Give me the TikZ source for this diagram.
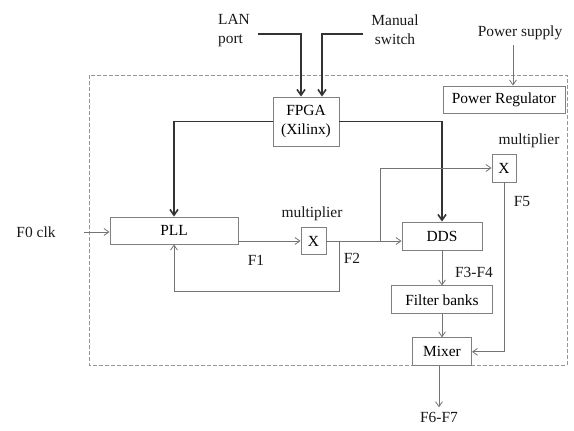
\documentclass[tikz,border=0pt]{standalone}
\usepackage{fontspec}
\setmainfont{Liberation Serif}
\usetikzlibrary{positioning,arrows.meta}
\definecolor{boxgray}{RGB}{128,128,128}
\definecolor{linegray}{RGB}{115,115,115}
\definecolor{framegray}{RGB}{150,150,150}
\tikzset{
    block/.style={rectangle, draw=boxgray, line width=0.9bp, inner sep=0pt, text centered},
    lbl/.style={inner sep=2bp, text=black!90},
    arr/.style={draw=linegray, line width=0.8bp, -{Straight Barb[angle=70:6bp]}},
    ctrl/.style={draw=black!80, line width=1.6bp, -{Straight Barb[angle=70:7bp]}},
    frame/.style={draw=framegray, line width=0.9bp, dash pattern=on 4bp off 2bp}
    }

\begin{document}
\begin{tikzpicture}[x=1bp, y=-1bp, font=\fontsize{15.5}{19}\selectfont]
    \useasboundingbox (0,0) rectangle (574,430);
    \draw[frame] (89,75) rectangle (567,365);
    % inputs
    \node[lbl, align=left] (lan) at (234,31) {LAN\\port};
    \node[lbl, align=center] (manual) at (395,30) {Manual\\switch};
    \node[lbl] (psup) at (520,33) {Power supply};
    \node[lbl] (f0) at (36,232) {F0 clk};
    \coordinate (clkin) at (84,232);
    % blocks
    \node[block, minimum width=66bp, minimum height=49bp, align=center] (fpga) at (306,121.5) {FPGA\\(Xilinx)};
    \node[block, minimum width=122bp, minimum height=27bp] (preg) at (504,99.5) {Power Regulator};
    \node[block, minimum width=128bp, minimum height=27bp] (pll) at (174,230.5) {PLL};
    \node[block, minimum width=25bp, minimum height=27bp] (mula) at (313.5,241) {X};
    \node[lbl] (mulalbl) at (312,214) {multiplier};
    \node[block, minimum width=80bp, minimum height=28bp] (dds) at (442,236) {DDS};
    \node[block, minimum width=101bp, minimum height=28bp, below=35bp of dds] (filt) {Filter banks};
    \node[block, minimum width=59bp, minimum height=28bp, below=23bp of filt] (mixer) {Mixer};
    \node[block, minimum width=24bp, minimum height=28bp] (mulb) at (504,168) {X};
    \node[lbl] (mulblbl) at (529,141) {multiplier};
    % frequency labels
    \node[lbl] (f1) at (256,260) {F1};
    \node[lbl] (f2) at (352,258) {F2};
    \node[lbl] (f34) at (474,272) {F3-F4};
    \node[lbl] (f5) at (522,202) {F5};
    \coordinate (j1) at (339,241);
    \coordinate (j2) at (380,241);

    \draw[ctrl] ([xshift=6bp,yshift=-3bp]lan.east) -| ([xshift=-5bp]fpga.north);
    \draw[ctrl] ([xshift=-6bp,yshift=-4bp]manual.west) -| ([xshift=16bp]fpga.north);
    \draw[arr] ([xshift=9bp,yshift=-3bp]preg.north |- psup.south) -- ([xshift=9bp]preg.north);
    \draw[ctrl] (fpga.west) -| (pll.north);
    \draw[ctrl] (fpga.east) -| (dds.north);
    \draw[arr] (clkin) -- (clkin -| pll.west);
    \draw[arr] (pll.east |- mula.west) -- (mula.west);
    \draw[arr] (mula.east) -- (mula.east -| dds.west);
    \draw[arr] (j1) -- ++(0,50) -| (pll.south);
    \draw[arr] (j2) |- (mulb.west);
    \draw[arr] (mulb.south) |- (mixer.east);
    \draw[arr] (dds) -- (filt);
    \draw[arr] (filt) -- (mixer);
    \draw[arr] ([xshift=-3bp]mixer.south) -- ++(0,41) node[lbl, below=3bp] (f67) {F6-F7};
\end{tikzpicture}
\end{document}
